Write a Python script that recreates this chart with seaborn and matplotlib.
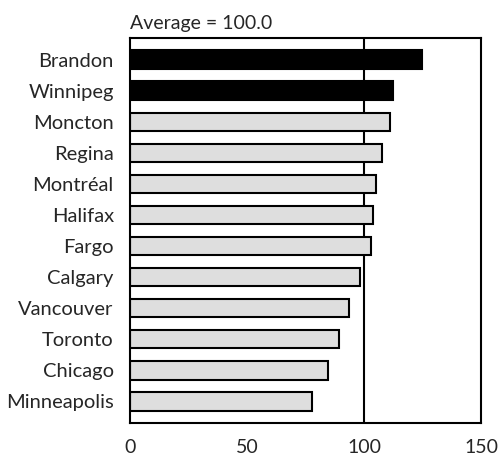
import matplotlib
matplotlib.use("Agg")
import matplotlib.pyplot as plt
import seaborn as sns
import pandas as pd

cities = ["Brandon", "Winnipeg", "Moncton", "Regina", "Montréal", "Halifax",
          "Fargo", "Calgary", "Vancouver", "Toronto", "Chicago", "Minneapolis"]
index_values = [124.8, 112.4, 110.9, 107.5, 105.0, 103.8,
                102.8, 98.4, 93.6, 89.2, 84.6, 77.8]
highlight = ["Brandon", "Winnipeg"]
average = 100.0
x_ticks = [0, 50, 100, 150]

sns.set_style("white")
plt.rcParams["font.family"] = ["Lato", "DejaVu Sans"]

df = pd.DataFrame({"city": cities, "value": index_values})
palette = {c: ("black" if c in highlight else "#dedede") for c in cities}

fig = plt.figure(figsize=(4.98, 4.63), dpi=100)
ax = fig.add_axes([0.2605, 0.0857, 0.706, 0.8329])

sns.barplot(data=df, y="city", x="value", hue="city", palette=palette,
            orient="h", width=0.6, edgecolor="black", linewidth=1.5,
            legend=False, ax=ax)

ax.axvline(average, color="black", linewidth=1.5, zorder=0)

ax.set_xlim(0, 150)
ax.set_ylim(len(cities) - 0.29, -0.71)
ax.set_xticks(x_ticks)
ax.set_xlabel("")
ax.set_ylabel("")
ax.tick_params(axis="x", direction="out", length=8, width=1.5, labelsize=14, pad=3)
ax.tick_params(axis="y", length=0, labelsize=14.5, pad=11.5)
for s in ax.spines.values():
    s.set_linewidth(1.5)
    s.set_color("black")

ax.set_title(f"Average = {average:.1f}", loc="left", fontsize=14, pad=6)

fig.savefig("out.png", dpi=100)
